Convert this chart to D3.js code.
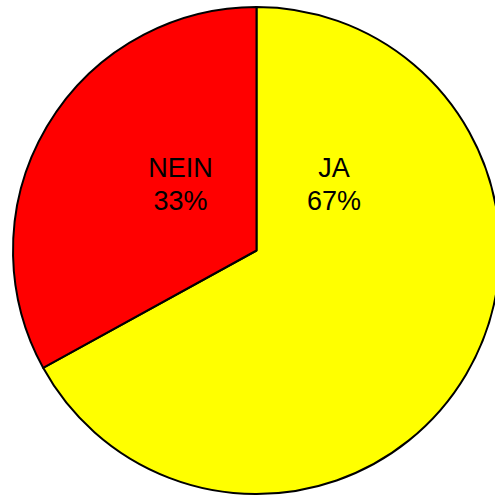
<!DOCTYPE html>
<html>
<head>
<script src="https://d3js.org/d3.v7.min.js"></script>
<style>
body { margin: 0; background: #fff; }
svg { display: block; }
.lbl { font-family: "Liberation Sans", Arial, sans-serif; font-size: 27px; fill: #000; }
</style>
</head>
<body>
<script>
// data
var categories = ["JA", "NEIN"];
var shares = [67, 33];
var colors = ["#ffff00", "#ff0000"];

var W = 495, H = 495;
var cx = 256.5, cy = 250.5, r = 243.5;

// label anchors relative to pie centre, in units of radius
var labelPos = [[0.318, -0.27], [-0.312, -0.27]];

var svg = d3.select("body").append("svg")
    .attr("width", W)
    .attr("height", H)
  .append("g")
    .attr("transform", "translate(" + cx + "," + cy + ")");

var pie = d3.pie().sort(null).value(function(d) { return d; });
var arc = d3.arc().innerRadius(0).outerRadius(r);

svg.selectAll("path.slice")
    .data(pie(shares))
  .enter().append("path")
    .attr("class", "slice")
    .attr("d", arc)
    .attr("fill", function(d, i) { return colors[i]; })
    .attr("stroke", "#000")
    .attr("stroke-width", 2)
    .attr("stroke-linejoin", "round");

var lbl = svg.selectAll("text.lbl")
    .data(categories)
  .enter().append("text")
    .attr("class", "lbl")
    .attr("text-anchor", "middle")
    .attr("x", function(d, i) { return labelPos[i][0] * r; })
    .attr("y", function(d, i) { return labelPos[i][1] * r; });

lbl.append("tspan")
    .attr("x", function(d, i) { return labelPos[i][0] * r; })
    .attr("dy", "-0.3em")
    .text(function(d) { return d; });

lbl.append("tspan")
    .attr("x", function(d, i) { return labelPos[i][0] * r; })
    .attr("dy", "1.24em")
    .text(function(d, i) { return shares[i] + "%"; });
</script>
</body>
</html>
